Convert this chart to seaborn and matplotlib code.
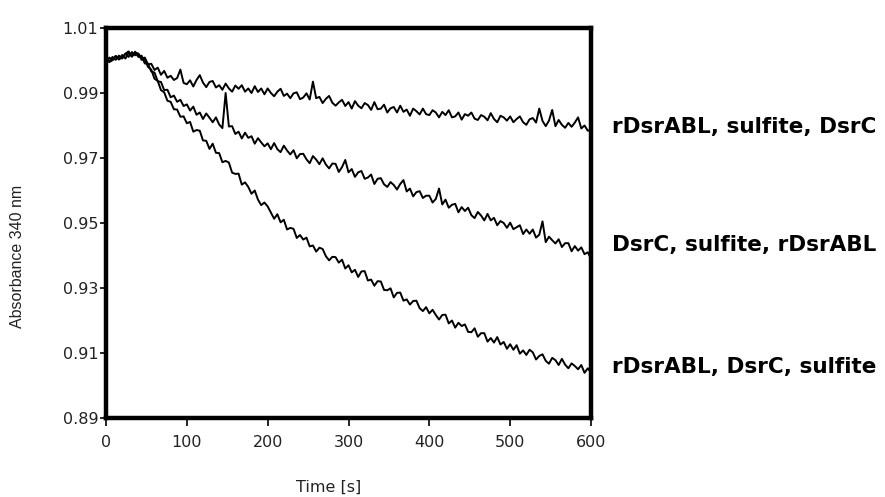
import numpy as np
import pandas as pd
import matplotlib
matplotlib.use("Agg")
import matplotlib.pyplot as plt
import seaborn as sns

# ---- data (one reading every 4 s) ----
time_s = list(range(0, 601, 4))

series_names = ["rDsrABL, sulfite, DsrC", "DsrC, sulfite, rDsrABL", "rDsrABL, DsrC, sulfite"]

abs_rdsrabl_sulfite_dsrc = [
    1.0006, 0.9995, 1.0001, 1.0014, 1.0004,
    1.0009, 1.0021, 1.0028, 1.0012, 1.0025,
    1.0021, 1.0006, 1.0009, 0.9988, 0.9990,
    0.9971, 0.9978, 0.9956, 0.9968, 0.9947,
    0.9953, 0.9940, 0.9946, 0.9972, 0.9931,
    0.9927, 0.9939, 0.9920, 0.9940, 0.9955,
    0.9932, 0.9918, 0.9934, 0.9937, 0.9917,
    0.9924, 0.9910, 0.9929, 0.9914, 0.9904,
    0.9923, 0.9913, 0.9924, 0.9904, 0.9914,
    0.9900, 0.9921, 0.9903, 0.9914, 0.9896,
    0.9914, 0.9900, 0.9890, 0.9904, 0.9913,
    0.9891, 0.9898, 0.9884, 0.9899, 0.9902,
    0.9881, 0.9886, 0.9899, 0.9880, 0.9935,
    0.9884, 0.9888, 0.9869, 0.9882, 0.9891,
    0.9870, 0.9861, 0.9871, 0.9879, 0.9860,
    0.9872, 0.9852, 0.9875, 0.9861, 0.9853,
    0.9869, 0.9863, 0.9848, 0.9872, 0.9850,
    0.9852, 0.9864, 0.9840, 0.9853, 0.9857,
    0.9840, 0.9861, 0.9842, 0.9849, 0.9830,
    0.9852, 0.9844, 0.9834, 0.9852, 0.9835,
    0.9832, 0.9847, 0.9840, 0.9825, 0.9842,
    0.9832, 0.9847, 0.9825, 0.9828, 0.9840,
    0.9818, 0.9835, 0.9830, 0.9840, 0.9821,
    0.9817, 0.9832, 0.9827, 0.9816, 0.9838,
    0.9820, 0.9810, 0.9830, 0.9825, 0.9815,
    0.9828, 0.9810, 0.9820, 0.9828, 0.9810,
    0.9802, 0.9819, 0.9823, 0.9809, 0.9852,
    0.9814, 0.9798, 0.9815, 0.9848, 0.9798,
    0.9817, 0.9802, 0.9793, 0.9808, 0.9796,
    0.9809, 0.9825, 0.9791, 0.9800, 0.9784,
    0.9786,
]

abs_dsrc_sulfite_rdsrabl = [
    0.9995, 1.0009, 1.0001, 1.0014, 1.0003,
    1.0017, 1.0006, 1.0024, 1.0012, 1.0027,
    1.0011, 1.0015, 0.9991, 0.9990, 0.9966,
    0.9963, 0.9936, 0.9934, 0.9909, 0.9910,
    0.9887, 0.9892, 0.9873, 0.9879, 0.9860,
    0.9865, 0.9846, 0.9858, 0.9833, 0.9840,
    0.9820, 0.9837, 0.9824, 0.9810, 0.9825,
    0.9803, 0.9792, 0.9900, 0.9797, 0.9798,
    0.9774, 0.9781, 0.9760, 0.9778, 0.9762,
    0.9767, 0.9744, 0.9761, 0.9748, 0.9736,
    0.9745, 0.9727, 0.9746, 0.9727, 0.9718,
    0.9738, 0.9723, 0.9711, 0.9724, 0.9699,
    0.9712, 0.9713, 0.9696, 0.9684, 0.9706,
    0.9695, 0.9681, 0.9699, 0.9680, 0.9668,
    0.9683, 0.9682, 0.9657, 0.9672, 0.9694,
    0.9656, 0.9666, 0.9642, 0.9656, 0.9660,
    0.9636, 0.9640, 0.9649, 0.9620, 0.9636,
    0.9638, 0.9619, 0.9611, 0.9626, 0.9617,
    0.9603, 0.9620, 0.9632, 0.9597, 0.9606,
    0.9582, 0.9595, 0.9598, 0.9577, 0.9584,
    0.9584, 0.9563, 0.9574, 0.9606, 0.9557,
    0.9572, 0.9547, 0.9556, 0.9559, 0.9533,
    0.9549, 0.9537, 0.9547, 0.9524, 0.9515,
    0.9534, 0.9523, 0.9508, 0.9528, 0.9508,
    0.9516, 0.9493, 0.9506, 0.9500, 0.9485,
    0.9501, 0.9481, 0.9487, 0.9493, 0.9466,
    0.9480, 0.9467, 0.9480, 0.9455, 0.9464,
    0.9505, 0.9441, 0.9458, 0.9447, 0.9437,
    0.9450, 0.9426, 0.9438, 0.9438, 0.9413,
    0.9429, 0.9415, 0.9425, 0.9404, 0.9410,
    0.9390,
]

abs_rdsrabl_dsrc_sulfite = [
    1.0004, 0.9997, 1.0011, 1.0002, 1.0015,
    1.0006, 1.0021, 1.0011, 1.0026, 1.0016,
    1.0021, 1.0002, 1.0004, 0.9980, 0.9972,
    0.9944, 0.9937, 0.9909, 0.9902, 0.9876,
    0.9873, 0.9850, 0.9849, 0.9827, 0.9828,
    0.9807, 0.9811, 0.9781, 0.9786, 0.9784,
    0.9754, 0.9753, 0.9728, 0.9744, 0.9716,
    0.9715, 0.9687, 0.9691, 0.9686, 0.9655,
    0.9651, 0.9652, 0.9618, 0.9625, 0.9611,
    0.9590, 0.9600, 0.9572, 0.9555, 0.9563,
    0.9551, 0.9532, 0.9513, 0.9527, 0.9502,
    0.9510, 0.9480, 0.9485, 0.9482, 0.9454,
    0.9463, 0.9449, 0.9455, 0.9428, 0.9431,
    0.9412, 0.9424, 0.9420, 0.9398, 0.9385,
    0.9396, 0.9395, 0.9378, 0.9387, 0.9360,
    0.9370, 0.9348, 0.9356, 0.9334, 0.9351,
    0.9352, 0.9323, 0.9326, 0.9307, 0.9321,
    0.9320, 0.9294, 0.9293, 0.9299, 0.9271,
    0.9285, 0.9286, 0.9261, 0.9265, 0.9249,
    0.9260, 0.9261, 0.9238, 0.9229, 0.9241,
    0.9222, 0.9233, 0.9217, 0.9203, 0.9217,
    0.9218, 0.9191, 0.9200, 0.9178, 0.9193,
    0.9183, 0.9188, 0.9165, 0.9164, 0.9176,
    0.9150, 0.9161, 0.9161, 0.9135, 0.9146,
    0.9132, 0.9149, 0.9126, 0.9134, 0.9113,
    0.9127, 0.9110, 0.9124, 0.9098, 0.9108,
    0.9094, 0.9110, 0.9102, 0.9080, 0.9091,
    0.9096, 0.9076, 0.9067, 0.9085, 0.9078,
    0.9063, 0.9082, 0.9064, 0.9053, 0.9068,
    0.9060, 0.9050, 0.9063, 0.9039, 0.9053,
    0.9040,
]

x_ticks = [0, 100, 200, 300, 400, 500, 600]
y_ticks = [0.89, 0.91, 0.93, 0.95, 0.97, 0.99, 1.01]
y_tick_labels = ["0.89", "0.91", "0.93", "0.95", "0.97", "0.99", "1.01"]

# ---- build long table ----
all_values = [abs_rdsrabl_sulfite_dsrc, abs_dsrc_sulfite_rdsrabl, abs_rdsrabl_dsrc_sulfite]
df = pd.concat(
    [pd.DataFrame({"time": time_s, "absorbance": vals, "series": name})
     for name, vals in zip(series_names, all_values)],
    ignore_index=True,
)

sns.set_style("ticks")
plt.rcParams["font.family"] = ["DejaVu Sans"]

fig = plt.figure(figsize=(8.85, 4.97), dpi=100)
ax = fig.add_axes([106 / 885, 1 - 418 / 497, 485 / 885, 390 / 497])

sns.lineplot(data=df, x="time", y="absorbance", units="series", estimator=None,
             color="black", linewidth=1.4, ax=ax, legend=False)

ax.set_xlim(0, 600)
ax.set_ylim(0.89, 1.01)
ax.set_xticks(x_ticks)
ax.set_xticklabels([str(v) for v in x_ticks])
ax.set_yticks(y_ticks)
ax.set_yticklabels(y_tick_labels)

for side in ["left", "right", "top", "bottom"]:
    ax.spines[side].set_visible(True)
    ax.spines[side].set_linewidth(3.2)
    ax.spines[side].set_color("black")

ax.tick_params(axis="x", direction="out", length=5.5, width=1.2, labelsize=11.5,
               colors="black", labelcolor="#222222", pad=7)
ax.tick_params(axis="y", direction="out", length=4, width=1.2, labelsize=11.5,
               colors="black", labelcolor="#222222", pad=1.5)

ax.set_xlabel("Time [s]", fontsize=11.5, color="#222222")
ax.xaxis.set_label_coords(0.46, -0.159)
ax.xaxis.label.set_va("top")
ax.set_ylabel("Absorbance 340 nm", fontsize=11.5, color="#222222",
              family=["Liberation Sans", "DejaVu Sans"])
ax.yaxis.set_label_coords(-0.167, 0.415)

# end labels
label_y = [0.9795, 0.9432, 0.9057]
for name, yv in zip(series_names, label_y):
    ax.text(626, yv, name, fontsize=15.5, fontweight="bold", color="black",
            ha="left", va="center", clip_on=False)

fig.savefig("out.png", dpi=100)
